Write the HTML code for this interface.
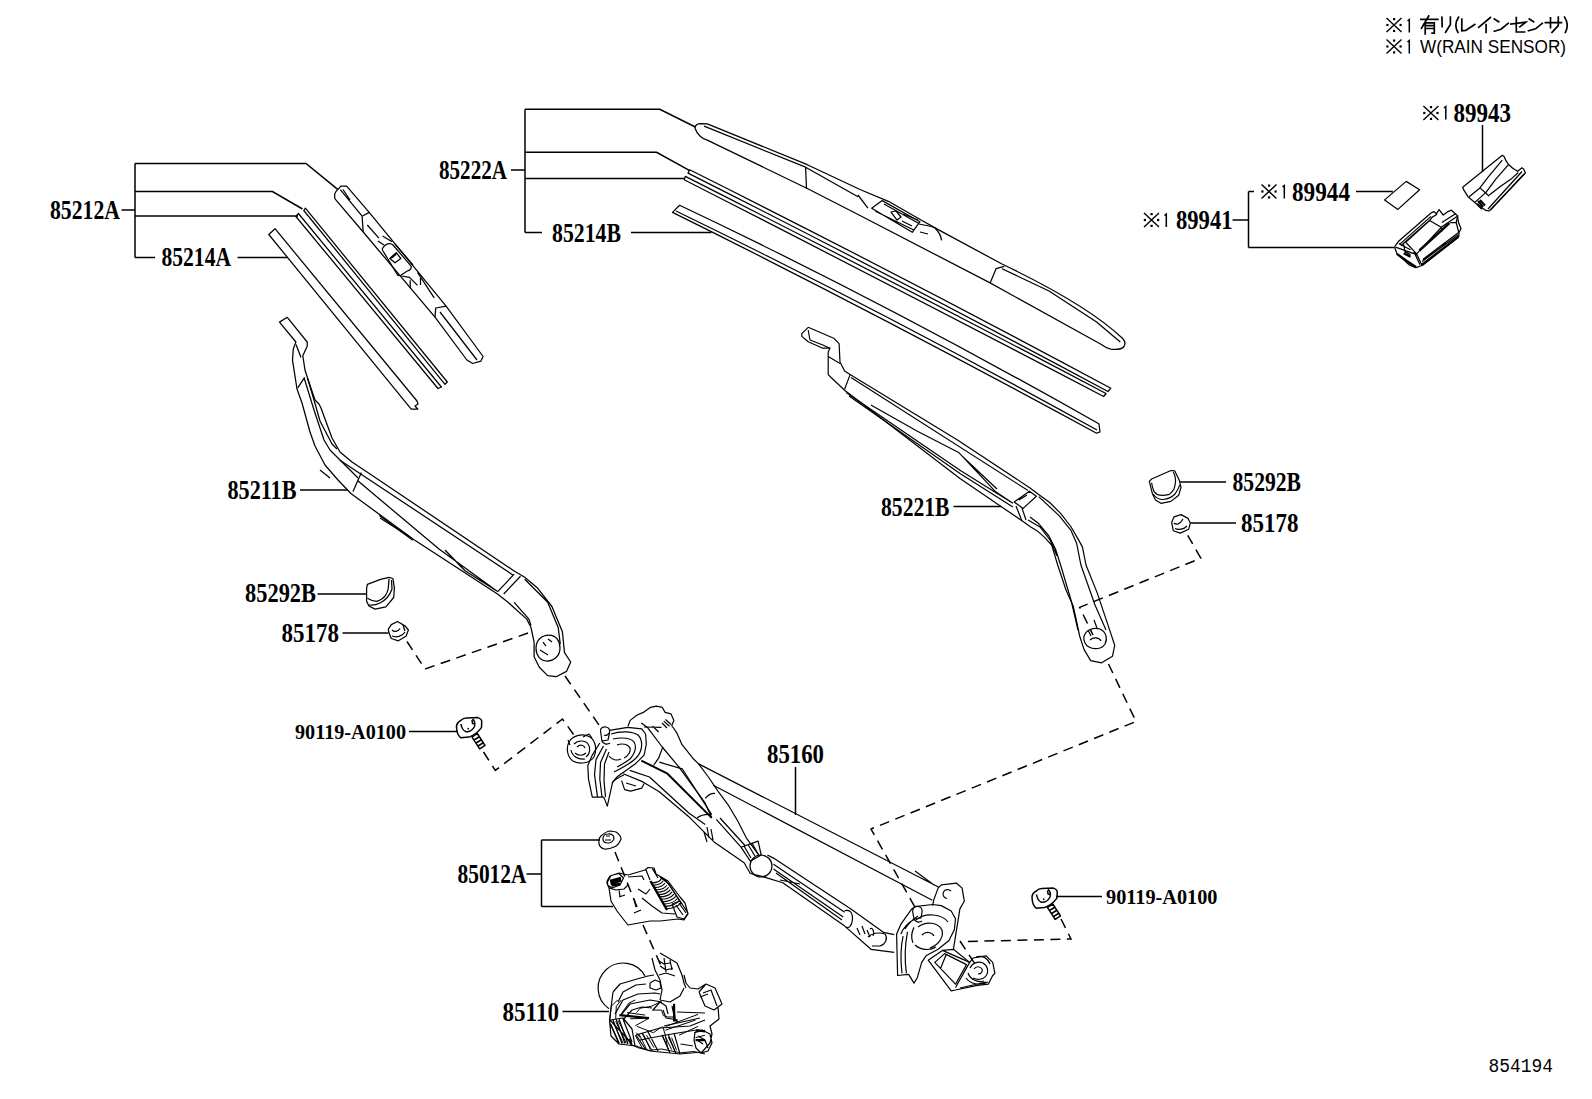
<!DOCTYPE html>
<html><head><meta charset="utf-8"><style>
html,body{margin:0;padding:0;background:#fff;width:1592px;height:1099px;overflow:hidden}
svg{display:block}
.t{font-family:"Liberation Serif",serif;font-weight:bold;font-size:27px;fill:#000}
.ts{font-family:"Liberation Serif",serif;font-weight:bold;font-size:22px;fill:#000}
.tn{font-family:"Liberation Mono",monospace;font-size:19.5px;fill:#000}
.n{font-family:"Liberation Sans",sans-serif;font-size:19px;fill:#000}
</style></head><body>
<svg width="1592" height="1099" viewBox="0 0 1592 1099">
<rect width="1592" height="1099" fill="#fff"/>
<defs>
<g id="kome"><path d="M0.5 14.5L15.5 0.5M0.5 0.5L15.5 14.5" stroke="#000" stroke-width="1.4" fill="none"/><rect x="7" y="0.5" width="2.2" height="2.2"/><rect x="7" y="12.3" width="2.2" height="2.2"/><rect x="0.3" y="6.4" width="2.2" height="2.2"/><rect x="13.5" y="6.4" width="2.2" height="2.2"/></g>
<g id="one"><path d="M1.5 2L3.3 0.5V13.5" stroke="#000" stroke-width="1.5" fill="none"/></g>
</defs>

<g id="bladeL" fill="none" stroke="#000" stroke-width="1.25" stroke-linejoin="round">
<path d="M340.8 186.2L346.6 186.2L369.2 212.4L446.1 306.1L483.1 356.5L480.8 361.2L472.7 363.5L466.9 360L435 317.2L363.2 232L334.8 198.7L334.6 194.4L335.9 191.6Z"/>
<path d="M340.3 189.7L362.1 216.2L369.2 212.4M362.1 216.2L363.2 232M343 189.5L350 200M446.1 306.1L435.7 308L435 317.2M440 312L477 360"/>
<path d="M367.3 225L378.9 238.1M417.5 272.3L434.2 297.8"/>
<path d="M382.6 248.3C385 244 390 242 393 245L410.9 265.8C412 268 410 270.5 407.3 271L400.8 275.2C399 276 397.5 275.5 397 274L384 252.7C382.5 251 382 249.5 382.6 248.3Z"/>
<path d="M389.8 258.5L396.4 252.7L400.8 258.5L395 262.8ZM395 244L413 265M401.5 276L409.5 277.4L417.5 285.4M410.2 280.3V288.3M420.5 278V285M382.6 236L392 241.7M378 241L384 245"/><path d="M391 258L396 254" stroke-width="2.2"/>
<path d="M295.9 216.5L438 388.5L441.4 387L298.4 213.5ZM303.8 210.5L445 384.3L447.3 382L305.4 208.2Z"/>
<path d="M268.8 234.5L275 228.7L417 401L418 404L415 406L417.8 409.2L411.2 409.2L268.8 234.5Z"/>
</g>
<g id="armL" fill="none" stroke="#000" stroke-width="1.25" stroke-linejoin="round">
<path d="M279.5 322.1L287.3 317.3L307.2 342L307.2 346.3L302.8 355.8L305 370L307.5 378L315 400L319 404L321 408L332 438L340 452L352 462L370 474L514.2 571L524.7 577.2L537.2 587.7L551.9 606.5L562.4 631.7L564.5 652.6L570.7 662L566.5 671.4L556.1 676.7L547.7 675.6L539.3 667.2L534.1 656.8L534.1 642.1L531 627.5L526.8 619.1L508 602.3L497.5 594L413.7 539.5L350.9 493.5L338 480L325 465L315 446L310 432L302 403L297 389L292.5 360.1L293.3 348.9L295.9 342Z"/>
<path d="M296 344.6L301 357.5M297.7 387.8L304.6 377.4M304 377.5L314 410L324 440L330 450L340 460L358 478M307.5 378L314 400L320 421L332 444L337 449"/>
<path d="M340 460.2L513.2 575.2M357.5 480.6L439 549L497.2 591.2M445 550L465 570.8L497.2 591.2M379.3 515.5L412.8 540.2M353 491.4L361.4 472.6M497.5 591.9L514.2 574.1M503.7 594L520.5 576.2"/>
<path d="M514.2 602.3L528.9 619.1L531 625.4M524.7 579.3L547.7 602.3L558.2 627.5L560.3 644.2"/>
<path d="M536 648C536 640 542 635 549 635C556 635 560 641 560 648C560 656 554 661 547 661C540 661 536 655 536 648Z"/>
<path d="M540 650L548 655M543 642L546 646M548 639L552 642M380 518L410 537M320 470L330 478"/>
<!-- cap -->
<path d="M367.4 584.3L380.5 579.3L389 577.4L392.9 578.5L394.4 588.2L393.7 597.5L385.9 606.8L375.1 609.1L368.9 606L366.6 601.3L366.6 588.2Z"/>
<path d="M367.4 598.3C370 600 373 601.3 376.7 601.3C380 600.5 383 598.5 385.2 595.9C387 593 388 591 388.3 588.2L389 578.9M369 605C373 605.5 377 604.5 380 603C386 600 390 595 392 589L391.5 580"/>
<!-- nut -->
<path d="M388.3 629.2L391.3 624.6L397.5 621.5L405.3 626.1L408.4 630L406 636.2L398.3 640.8L391.3 638.5L389 633.1Z"/>
<path d="M392 630C394 632 398 632 400 628.5M392 636C396 637.5 402 637 405 632M403 625L405 631"/>
</g>
<g id="bladeR" fill="none" stroke="#000" stroke-width="1.25" stroke-linejoin="round">
<path d="M695.1 128.5C695 125 697 123.8 700 123.6L707.3 123.8L807.3 164.7L860 189.5L888.4 201.3L921.5 220.2L940.5 230.9L1002 264C1050 287 1095 312 1122.7 338.5C1125 341 1125.5 344 1124 346.5C1122 349 1116 349.8 1110.8 349.2C1107 348.5 1104 346.5 1101.4 344.5L990.1 282.9L860 215.5L807.3 188.5L707.3 140.1C702 139 697 134 695.1 128.5Z"/>
<path d="M704.1 126.2L805.6 167.2L858 196.7M805.6 167.2L806.5 188.5M1002 268.7L1049 291L1096.6 322L1120.3 342M990.1 282.9L996.1 268.7L1004.3 266.4M858 195L867.9 208.1"/>
<path d="M871.7 208.2L882.2 200.6L919.9 221.7L912.3 232.3ZM875.4 211.2L913.8 230M884 204L918 223"/>
<path d="M891 212L896 211L901 217L897 220ZM903 214L918 220M902 221L912 226M919 224C925 225 930 226 935 228C939 232 941 236 941.6 240.3M920 232L928 234"/>
<!-- insert -->
<path d="M689.7 169.8L688 173.1Q900 280 1108 391.5L1110.8 388.2Q900 275 689.7 169.8ZM685.3 176.4L684.2 179.7Q900 290 1103.7 396.5L1106 393.5Q900 285 685.3 176.4Z"/>
<!-- rubber -->
<path d="M679.6 205.3L672.5 212.4Q870 310 1096.6 433.2L1100 432L1099 424L1096.6 422.5Q880 300 679.6 205.3ZM676 211Q880 310 1097 430"/>
</g>
<g id="sensor" fill="none" stroke="#000" stroke-width="1.25" stroke-linejoin="round">
<path d="M1384.6 199.9L1406.2 181.4L1419.6 189.7L1397.9 209.4Z"/>
<path d="M1462.7 187.3L1502.3 155.3L1504.1 156.5C1505 159 1506.5 162 1508.3 164.2C1511 167 1514 169.5 1517.7 171.3L1521.9 167.8L1523.6 168.9L1525.4 173.1L1489.3 210.9L1485.8 210.4L1475.7 203.3L1468 196.7L1463.9 190.2Z"/>
<path d="M1469.2 196.7L1479.9 187.9L1488.1 177.2L1502.3 160.1M1475.1 202.1L1485.8 192.6L1496.4 178.4L1508.3 164.8M1479.9 187.9L1489.3 196.2M1489.3 195L1500 186.7L1511.8 178.4L1518.3 172.5M1488 209L1522 171.5M1490.5 210L1524 174"/>
<path d="M1478 201L1483 207M1480 200L1485 205.5M1477 204L1482 209" stroke-width="2"/>
<path d="M1394.8 246.4 L1398.9 241.0 L1431.0 213.0 L1433.7 211.6 L1436.4 213.7 L1439.1 209.6 L1443.2 215.0 L1448.0 211.6 L1451.4 210.2 L1457.6 215.7 L1458.3 221.8 L1461.0 228.7 L1458.9 232.8 L1458.9 236.2 L1422.1 265.5 L1415.9 267.6 L1409.1 264.8 L1396.8 253.2 L1394.8 247.8 L1394.8 246.4 "/>
<path d="M1399.6 244.4 L1431.0 216.4 M1400.9 245.7 L1431.6 218.4 M1405.7 242.3 L1429.6 220.5 L1441.2 227.3 L1416.6 253.9 L1405.7 242.3 M1429.6 220.5 L1432.3 217.1 L1437.1 214.3 M1441.2 227.3 L1456.9 216.4 M1441.9 222.5 L1455.5 213.7 M1441.2 227.3 L1441.9 231.4 M1457.6 216.4 L1456.2 222.5 L1458.9 232.8 M1450.1 222.5 L1456.2 222.5 M1416.6 253.9 L1422.1 265.5 M1413.9 251.9 L1420.0 264.8 M1395.5 247.1 L1416.6 254.6 M1398.9 243.7 L1410.5 249.8 M1403.7 244.4 L1405.0 251.9 L1410.5 254.6 M1422.1 261.4 L1458.3 234.8 M1422.8 259.4 L1458.3 232.8 M1441.9 245.1 L1446.0 243.7 "/>
<path d="M1419.4 250.5 L1449.4 223.2 M1396.8 253.9 L1406.4 260.8 L1415.9 266.9 M1422.1 264.8 L1458.3 236.9 M1403.7 253.2 L1410.5 256.7 " stroke-width="2.4"/>
</g>
<g id="notes">
<use href="#kome" x="1386" y="17.5"/><use href="#one" x="1406" y="19"/>
<use href="#kome" x="1386" y="39"/><use href="#one" x="1406" y="40"/>
<path d="M1420.8 19.4 L1437.8 19.4 M1428.7 16.0 L1421.5 28.2 M1425.2 23.5 L1425.2 33.9 M1425.2 22.9 L1434.3 22.9 1434.3 33.2 1432.1 33.2 M1425.2 25.7 L1434.3 25.7 M1425.2 28.5 L1434.3 28.5 M1441.9 17.2 L1442.2 26.6 M1450.4 17.2 L1450.4 24.4 1445.6 32.3 M1458.5 17.2 Q1453.5 24.8 1457.9 32.3 M1461.8 19.0 L1461.8 30.8 1465.7 30.4 1474.7 24.5 M1490.4 17.5 L1478.6 27.3 M1486.1 24.5 L1486.1 32.4 M1494.3 19.0 L1498.7 21.8 M1494.3 31.2 L1501.0 29.2 1508.1 23.3 M1510.8 24.1 L1525.7 22.2 1519.9 26.9 M1516.3 17.5 L1516.3 32.0 1524.6 32.0 M1529.3 19.0 L1533.6 21.8 M1528.5 30.8 L1535.6 28.8 1542.2 23.3 M1545.4 22.6 L1561.5 22.6 M1550.5 17.8 L1550.5 27.7 M1558.3 17.1 L1558.3 25.7 1552.0 32.4 M1564.6 17.1 Q1569.5 24.5 1565.4 32.4 " fill="none" stroke="#000" stroke-width="1.7" stroke-linecap="square"/>
<text x="1420" y="53" font-family="Liberation Sans" font-size="18" textLength="146" lengthAdjust="spacingAndGlyphs">W(RAIN SENSOR)</text>
<use href="#kome" x="1422.9" y="105.5"/><use href="#one" x="1442.5" y="106"/>
<use href="#kome" x="1261" y="184"/><use href="#one" x="1281" y="185"/>
<use href="#kome" x="1143.5" y="212.5"/><use href="#one" x="1163" y="213.5"/>
</g>
<g id="linkage" fill="none" stroke="#000" stroke-width="1.2" stroke-linejoin="round">
<!-- left pivot bushing -->
<path d="M569 742C573 735 583 733 590 737C596 741 597 750 594 757C590 763 580 765 573 761C567 757 566 748 569 742Z"/>
<path d="M574 744C578 740 585 740 588 744C591 748 590 754 586 757M571 750C572 756 578 760 585 759M577 747C580 744 584 745 585 748M575 753C578 756 583 756 586 753M583 737L589 734L592 738M570 745L568 740"/>
<!-- left knob -->
<path d="M600.5 731C600 728 603 726.5 606 727C609 727.5 610 730 609.5 733L608 740L602 741Z"/>
<path d="M602 741C603 744 607 745 610 743M604 735C606 736 608 735 609 733"/>
<!-- left housing -->
<path d="M609.5 730.3L627.6 727.3L641.8 728.8L645.6 734L646.3 744.5L644.1 755.1L635.1 764.1L624.6 771.6L617.1 776.8L612.6 782.1L610.3 792.6L607.3 806.1L605 800.1L603.5 797.1L592.3 797.1L588.5 779.1L587.8 765.6L592.3 755.1L599.8 743"/>
<path d="M603.5 746L596 759.6L594.5 774.6L597.5 797.1M606.5 749L600.5 762.6L599.8 779L602 797M609 752L604.5 764L604 781L605.5 797"/>
<path d="M611 734C620 731 632 731 638 735C643 740 643 750 637 757C632 763 622 768 614 772M613 739C622 737 631 738 634 742C637 747 635 753 630 759C626 762 621 765 617 767M617 745C622 743 628 744 630 748C631 752 628 756 624 758M609 756C612 760 617 761 621 759M612 783C615 779 619 777 624 775"/>
<path d="M621.6 780.6L624.6 789.6L630.6 791.1L641.8 788.1L644.1 783.6M626 783L636 786"/>
<!-- top blob and pipe -->
<path d="M628 726.2L630.2 720.4L636.7 715.3L643.3 712.4L650.6 707.3L656.4 706.2L662.2 707.3L665.1 712.4L670.9 713.8L673.9 720.4L671.7 725.5L676.8 732.8L681.9 744.4L692.8 758.2L698.6 763.9L708.4 777L718.3 791.7L728.1 804.8L737.9 821.2L746.1 837.6L759.2 855.6"/>
<path d="M641.3 722.9L647.8 727.8L662.6 747.5L679 767.1L692.1 785.2L705.2 803.2L711.7 817.9"/>
<path d="M663.7 721.1L669.5 726.2M665.5 719.5L671 724.5M662 723L667 728M644 727L661.5 727.3M652.7 726.2L658.6 732M662.9 746.6L658.6 758.2L653.5 765.5"/>
<!-- upper rod -->
<path d="M698.6 763.9L938.9 887.2M713.3 785.2L932.3 900.3M915 871L934 885"/>
<!-- crank rod -->
<path d="M641.3 760.6L667.5 773.7L711.7 817.9" stroke-width="2"/>
<path d="M659.3 762.2L682.2 768.8L711.7 814.6M705.2 798.3C708 795 712 793 715 793.4M697 817.9C701 815 706 814 711.7 814.6"/>
<path d="M623.3 773.7L642.9 781.9L659.3 791.7L690 817.8L705.5 833.3L714.8 842.6L744.1 862.7L750.3 873.5L762.7 876.6M629.8 770.4L649.5 777L688.8 813L705.2 824.5M707 827L709 838M711 829L713 840M704 832L707 842"/>
<path d="M716.3 819.4L741 847.2M720 818L745 845.5M741 847.2L758.1 841.1L761.2 855L750.3 861.2ZM744 846L751 858M748 844.5L755 856M752 843L758 854"/>
<!-- frame pipe -->
<circle cx="761" cy="866" r="11"/>
<path d="M767.4 855L773.5 858.1L850.9 909.1L883.4 932.3L894.2 934.6M762.7 876.6L782.8 882.8L844.7 926.1L871 949.3L894.2 952.4"/>
<path d="M773.5 864.3L844.7 912.2M773.5 868.9L843.2 916.9M776 873L842 920M780 880L800 884"/>
<path d="M844.7 910.7C851 909 853 914 852.4 920C852 925 849 929 846 927M857 928L860 935M862 926L865 934M867 930L870 937M870 929C872 927 875 931 873 936M868 937C872 933 879 932 885 934C888 938 886 944 880 946L872 946"/>
<!-- right tab -->
<path d="M932.6 905.6L933.7 900.1L938.1 888.1L941.3 884.8L956.6 883.2L962.1 888.1L964.3 901.2L959.9 908.9L953.4 949.3"/>
<path d="M951 891C949 889 945 889 943.5 892C942 895 944 898 947 898.5"/>
<!-- right housing -->
<path d="M896.6 934L900.9 924.2L911.8 908.9L915.1 906.7L932.6 904.5L941.3 905.6L951.2 911L955.5 918.7L954.4 929.6L949 940.5L938.1 949.3L926 955.8L921.7 962.4L917.3 977.7L914 983.1L908.6 974.4L897.6 975.5Z"/>
<path d="M903.1 936.2Q899.5 951.5 902 973.3M907.5 931.8Q903.5 951.5 906.4 973.3M900.9 934Q904 925 915.1 918.7M905 929Q910 921 918 916M914 927.4Q910 935 912.9 942.7M916 920C925 912 942 914 948 922M918 927C926 921 938 922 942 930C944 938 938 945 930 948M922 935C926 931 932 932 934 936M915 945C920 950 930 951 936 947"/>
<path d="M912.7 912C912 908 915 906 918 906.5C921 907 922.5 909 922 912L921 918L914 919Z"/>
<path d="M914 919C915 922 919 923 922 921"/>
<!-- right bushing / crank -->
<path d="M928.2 960.2L942.4 950.4L953.4 949.3L969.7 962.4L973 958L986.1 955.8L992.7 962.4L994.9 973.3L992.7 975.5L988.3 984.2L977.4 985.3L955.5 990L951.2 990.8Z"/>
<path d="M934.8 962.4L944.6 953.6L966.5 964.6L955.5 984.2ZM942.4 950.4L969.7 962.4L955.5 987.5M940.3 969L946 955M970 968C972 963 978 961 983 963C988 966 989 972 986 976C983 980 977 980 973 978M974 969C976 966 980 966 982 969C983 972 981 974 978 974M968 973C970 979 977 983 984 981M966 978C970 984 980 986 988 982M976 957C982 955 988 958 990 964M960 988L986 982"/>
</g>
<g id="armR" fill="none" stroke="#000" stroke-width="1.2" stroke-linejoin="round">
<path d="M801.8 333.7L808.2 327.3L833.7 338.2L839.1 343.7L840 361.9L844.6 371L850.1 374.6L957.5 440L1030 487.9L1038.7 494.5L1049.7 502.5L1060.6 513.4L1070.8 526.5L1078 538.9L1082.4 546.9L1086 565L1097.2 592.9L1108.2 625.6L1114.7 645.3L1112.5 656.2L1101.6 662.8L1090.7 660.6L1084.1 649.6L1079.8 636.5L1073.2 606L1066 590L1057.7 565L1051.8 545.4L1044.6 537.4L1037.3 530.9L1030 526.5L1022.4 521.1L960 478.5L844.6 390.2L831.9 378.2L828.2 374.6L828.2 351.9L830 348.2L822.8 348.2L808.2 341.8L801.8 336.4Z"/>
<path d="M808.2 330L810 340M810 340L822.8 345L830 348.2M828.2 356.5L840 363.5M850.1 374.6L844.6 389.2M851 377.5L1028 490.5M846.2 392.5L960 470.2L1012.9 503.3M849 396L960 473.4L1012.9 507.1M870.9 404.9L917.4 431.2L959.1 452.8L995.7 491.8L1012.9 503.3M963 457L997 489"/>
<path d="M1014.1 502L1029.4 491.2L1036.4 496.3L1023.1 508.4ZM1019 500L1027 495M1016 506L1022 521M1022 508L1026 520" />
<path d="M1038.7 496.6L1059.1 515.6L1070.8 530.1L1076.6 543.2L1080.9 565L1095 605L1106 630M1030 517L1038.7 523.6L1048.9 536L1055.5 549L1060.6 565L1071 600L1078 630M1028 520L1040 527L1050 540L1057 556"/>
<path d="M1084.1 636C1086 630 1093 627 1100 629C1106 632 1108 638 1105 644C1102 649 1094 650 1089 647C1085 645 1083 640 1084.1 636Z"/>
<path d="M1090 640C1093 637 1099 637 1101 641M1088 630L1091 636M1094 620L1097 628"/>
<!-- cap -->
<path d="M1149.3 481.3L1151.6 479L1170.9 470.5L1174.8 470.9L1179.4 480.5L1181 487.5L1178.7 495.2L1170.9 501.4L1160.9 503.3L1155.5 499.9L1152.4 493.7Z"/>
<path d="M1151.6 482.8C1152 486 1153 489 1153.9 491.3C1156 494 1158 495 1160.1 495.2C1163 495.5 1166 495.2 1169.4 494.4C1171 493 1173 491 1174 489C1175 486 1175.5 483 1175.6 480.5C1175.5 477 1174.5 474 1173.3 472M1153 494C1156 498 1159 499.5 1163 499.5C1168 499 1172 497 1175 494C1177 491 1179 488 1179.5 485"/>
<!-- nut -->
<path d="M1171.7 522.3L1174 516.9L1181 514.6L1188 518.4L1190.3 523.1L1188.7 529.2L1180.2 533.1L1173.3 530.8Z"/>
<path d="M1174 523C1176 525 1180 524.5 1183 519M1175 528.5C1178 530 1184 529.5 1187 526"/>
</g>
<defs><g id="bolt" fill="none" stroke="#000" stroke-width="1.5" stroke-linejoin="round">
<path d="M7.1 20.7C6.5 17 8.5 14.5 11.2 13C13 11.2 15 10.4 16.6 10.4L28.4 10.1C31 11 32.5 12.5 32.2 14.6L32 20.1C29 24 24 28 19.5 29.6L11.2 30.2C8.5 28 7.3 24 7.1 20.7Z"/>
<path d="M11.5 16.5C12 20 13.5 23 16.5 24.3C20 24.5 23.5 22 25 19C25.8 16 25 13 23 11.2M18.5 20.5L19 22M22.5 12.5L23 16L25.5 16.5"/>
<path d="M22.5 29.6L27.8 26L35.5 37.9L30.2 41.4ZM24.5 32.5L29.5 29.5M26.5 35.5L31.5 32.5M28.5 38.5L33.5 35.5"/>
</g>
</defs>
<use href="#bolt" x="1025" y="878"/>
<use href="#bolt" x="449.5" y="707.5"/>
<g id="motor" fill="none" stroke="#000" stroke-width="1.2" stroke-linejoin="round">
<path d="M599 844C598.5 840 599 838 600.5 836.5C604 833 608 831 611 831L616 832C619 834 621 836.5 621 839C619.5 843 617 846 614 847C611 848.5 607 849.3 604 849C601 848 599.5 846 599 844Z"/>
<path d="M603 839C603 836 605 834 608 834C611 833.5 614 835 614 838C614 841 611 843 608 843C605 843 603 841.5 603 839ZM606 836L610 836M605 840L611 840"/>
<path d="M607.0 881.0 L610.0 876.0 L619.0 873.0 L628.0 875.0 L645.0 870.0 L648.0 867.5 L654.0 868.0 L656.0 874.0 L668.0 881.0 L680.0 897.0 L685.0 903.0 L688.0 914.0 L684.0 920.0 L678.0 919.0 L660.0 921.0 L650.0 921.0 L628.0 925.0 L624.0 920.0 L617.0 911.0 L611.0 901.0 L609.0 888.0 L607.0 883.0 L607.0 881.0  M607.5 882.0 L611.0 875.5 L619.0 873.5 L623.5 878.0 L620.0 885.0 L612.0 888.0 L607.5 885.0 L607.5 882.0 M609.0 888.0 L616.0 890.0 L624.0 889.0 L628.0 885.0 M628.0 877.0 L642.0 876.0 L644.0 880.0 M638.0 889.0 L646.0 894.0 L650.0 889.0 M642.0 898.0 L652.0 906.0 L662.0 913.0 L675.0 914.0 M619.0 889.0 L620.0 897.0 M619.0 897.0 L625.0 895.0 M634.0 899.0 L636.0 907.0 M634.0 913.0 L641.0 910.0 M646.0 870.0 L650.0 880.0 M652.0 868.0 L658.0 878.0  M660.0 877.0 L666.0 881.0 L672.0 889.0 L680.0 901.0 M672.0 904.0 L680.0 901.0 L688.0 913.0 L684.0 919.0 L677.0 917.0 L672.0 904.0 M676.0 905.0 L683.0 915.0 M679.0 903.0 L686.0 913.0 "/>
<path d="M610.0 881.0 L621.0 878.0 M610.5 883.5 L621.5 880.5 M611.5 885.5 L620.0 884.0 " stroke-width="2.4"/>
<path d="M650.5 881.0L667.0 910.0" stroke-width="2.4"/><path d="M660.0 877.0L669.0 884.0L677.0 897.0L682.0 904.0"/>
<path d="M651.2 882.7Q658.8 883.1 661.4 878.6M652.6 885.1Q660.4 885.4 663.2 880.8M653.9 887.4Q662.0 887.7 665.0 883.0M655.3 889.8Q663.5 890.0 666.8 885.2M656.7 892.2Q665.1 892.3 668.6 887.4M658.1 894.6Q666.7 894.6 670.4 889.6M659.4 896.9Q668.3 896.9 672.1 891.9M660.8 899.3Q669.9 899.2 673.9 894.1M662.2 901.7Q671.5 901.5 675.7 896.3M663.6 904.1Q673.0 903.8 677.5 898.5M664.9 906.4Q674.6 906.1 679.3 900.7M666.3 908.8Q676.2 908.4 681.1 902.9" stroke-width="1.1"/>
<path d="M609 1008.7A25 25 0 1 1 645 976"/>
<path d="M613.0 992.0 L620.0 984.0 L637.0 979.0 L648.0 976.0 L654.0 975.0 M684.0 975.0 L686.0 983.0 L690.0 988.0 L698.0 989.0 L706.0 984.0 L715.0 988.0 L722.0 1004.0 L718.0 1007.0 L719.0 1019.0 L710.0 1026.0 L712.0 1034.0 L710.0 1043.0 L702.0 1052.0 L680.0 1054.0 L650.0 1051.0 L636.0 1046.0 L619.0 1044.0 L611.0 1036.0 L609.5 1020.0 L613.0 992.0  M660.0 953.0 L677.0 963.0 L682.0 975.0 L684.0 983.0 L686.0 988.0 M652.0 958.0 L655.0 970.0 L660.0 980.0 L662.0 990.0 L660.0 1000.0 M660.0 1000.0 L670.0 1002.0 L680.0 996.0 L684.0 988.0 M659.0 975.0 L666.0 973.0 L675.0 976.0  M659.0 961.0 L664.0 964.0 L670.0 963.0 M660.0 966.0 L666.0 970.0 L673.0 968.0 M664.0 958.0 L666.0 972.0 M670.0 960.0 L672.0 970.0  M615.0 1014.0 L623.0 1000.0 L638.0 994.0 L655.0 993.0 L660.0 994.0 M621.0 1015.0 L630.0 1004.0 L650.0 1000.0 L662.0 1002.0 M618.0 1002.0 L623.0 992.0 L636.0 985.0 L646.0 984.0 M623.0 1020.0 L632.0 1010.0 L642.0 1007.0 L652.0 1008.0  M610.0 1020.0 L632.0 1044.0 M609.5 1022.0 L619.0 1044.0 M613.0 1020.0 L622.0 1043.5 M616.0 1019.0 L625.0 1043.5 M619.0 1019.0 L628.0 1044.0 M623.0 1019.0 L632.0 1042.0 M610.0 1020.0 L623.0 1018.0 L632.0 1029.0 L635.0 1046.0  M636.0 1035.0 L646.0 1050.0 M642.0 1033.0 L652.0 1051.0 M648.0 1032.0 L658.0 1051.0 M662.0 1035.0 L670.0 1053.0 M668.0 1034.0 L676.0 1054.0 M674.0 1033.0 L680.0 1054.0 M636.0 1035.0 L660.0 1028.0 L690.0 1026.0 L705.0 1020.0 M640.0 1040.0 L666.0 1035.0 L696.0 1030.0 M664.0 1026.0 L700.0 1018.0 M677.0 1012.0 L705.0 1013.0  M699.0 992.0 L706.0 984.0 L715.0 988.0 L722.0 1004.0 L714.0 1010.0 L705.0 1006.0 L699.0 992.0 M703.0 993.0 L711.0 990.0 L717.0 1006.0 M700.0 997.0 L708.0 994.0  M695.0 1032.0 L702.0 1030.0 L710.0 1034.0 L712.0 1043.0 L708.0 1051.0 L701.0 1053.0 L696.0 1048.0 L694.0 1040.0 L695.0 1032.0 M698.0 1036.0 L705.0 1040.0 L708.0 1048.0 M697.0 1040.0 L703.0 1044.0  M653.0 1010.0 L660.0 1002.0 L666.0 1006.0 L668.0 1014.0 M663.0 1010.0 L666.0 1018.0 L678.0 1020.0 M672.0 1006.0 L675.0 1020.0 L678.0 1022.0 M650.0 983.0 L655.0 980.0 L660.0 982.0 L661.0 988.0 L656.0 990.0 L650.0 988.0 L650.0 983.0 "/>
<path d="M610.7 1023.9 L619.4 1043.3 M613.2 1022.6 L623.2 1043.3 M615.7 1021.4 L626.4 1043.3 M618.2 1020.7 L628.9 1041.5 M610.0 1018.8 L611.3 1006.3 L617.6 1000.0 M615.7 1018.8 L616.3 1006.3 L621.3 1000.0 M621.3 1013.8 L628.9 1003.1 L635.2 1000.0 M627.0 1012.6 L645.2 1015.1 M630.1 1018.8 L649.0 1018.2 L635.2 1025.8 M636.4 1012.6 L640.2 1008.2 L651.5 1006.3 L660.3 1001.9 M652.1 1010.1 L661.5 1010.1 L663.4 1015.7 L667.8 1017.0 L674.1 1017.0 M635.2 1035.2 L642.7 1049.0 M638.9 1033.9 L646.5 1049.0 M642.7 1033.3 L650.2 1049.0 M646.5 1035.2 L654.0 1047.7 M662.2 1035.2 L668.4 1049.0 M665.3 1036.4 L671.6 1049.6 M668.4 1037.1 L674.7 1050.3 M671.6 1037.7 L676.6 1050.3 M631.4 1044.6 L637.7 1047.7 L649.0 1050.3 L661.5 1049.0 L680.4 1052.8 L694.2 1051.5 L705.0 1054.0 M665.9 1026.4 L698.0 1014.4 M665.3 1030.2 L695.5 1020.1 M679.1 1035.2 L698.0 1026.4 M637.0 1026.4 L653.4 1032.7 L661.5 1027.0 M662.8 1026.4 L665.3 1035.2 L667.8 1049.0 M674.1 1006.3 L675.4 1021.4 M636.4 1032.7 L640.2 1037.7 M680.4 1044.0 L692.9 1045.9 M694.2 1032.7 L705.0 1030.2 M695.5 1037.7 L705.0 1035.2 " stroke-width="1"/>
<path d="M619.4 1015.1 L649.0 1018.2 M674.1 1003.8 L674.1 1021.4 M696.1 1030.2 L705.0 1031.4 M695.5 1040.2 L705.0 1040.2 M628.9 1038.9 L631.4 1044.6 " stroke-width="2.2"/>
</g>
<!-- LABELS -->
<g id="labels">
<text class="t" x="50" y="219" textLength="70" lengthAdjust="spacingAndGlyphs">85212A</text>
<text class="t" x="161.5" y="265.5" textLength="69.5" lengthAdjust="spacingAndGlyphs">85214A</text>
<text class="t" x="439" y="179" textLength="68" lengthAdjust="spacingAndGlyphs">85222A</text>
<text class="t" x="552" y="241.5" textLength="69" lengthAdjust="spacingAndGlyphs">85214B</text>
<text class="t" x="1453.5" y="121.5" textLength="57.5" lengthAdjust="spacingAndGlyphs">89943</text>
<text class="t" x="1292" y="200.5" textLength="58" lengthAdjust="spacingAndGlyphs">89944</text>
<text class="t" x="1176" y="229" textLength="56.5" lengthAdjust="spacingAndGlyphs">89941</text>
<text class="t" x="227.5" y="499" textLength="69" lengthAdjust="spacingAndGlyphs">85211B</text>
<text class="t" x="245" y="602" textLength="71" lengthAdjust="spacingAndGlyphs">85292B</text>
<text class="t" x="281.5" y="641.5" textLength="57.5" lengthAdjust="spacingAndGlyphs">85178</text>
<text class="ts" x="295" y="739" textLength="111" lengthAdjust="spacingAndGlyphs">90119-A0100</text>
<text class="t" x="767" y="763" textLength="57" lengthAdjust="spacingAndGlyphs">85160</text>
<text class="t" x="457.5" y="883" textLength="69" lengthAdjust="spacingAndGlyphs">85012A</text>
<text class="t" x="502.5" y="1020.5" textLength="56.5" lengthAdjust="spacingAndGlyphs">85110</text>
<text class="ts" x="1106" y="904" textLength="111.5" lengthAdjust="spacingAndGlyphs">90119-A0100</text>
<text class="t" x="881" y="515.5" textLength="68.5" lengthAdjust="spacingAndGlyphs">85221B</text>
<text class="t" x="1232.5" y="490.5" textLength="68.5" lengthAdjust="spacingAndGlyphs">85292B</text>
<text class="t" x="1241" y="531.5" textLength="57.5" lengthAdjust="spacingAndGlyphs">85178</text>
<text class="tn" x="1488.5" y="1071.5" textLength="64.5" lengthAdjust="spacingAndGlyphs">854194</text>
</g>
<!-- LEADERS -->
<g id="leaders" fill="none" stroke="#000" stroke-width="1.5">
<path d="M121.5 210H135M135 163.5V257.5M135 163.5H306L338 189.7M135 191.5H272.5L302.5 209M135 216H298M135 257.5H155M237.5 257.5H287.5"/>
<path d="M511 170H525M525 109.3V232.5M525 109.3H659.8L695.3 127M525 152.3H656.6L689.3 170.4M525 178.5H684.4M525 232.5H542M631 232.5H711.4"/>
<path d="M1482.5 125V172"/>
<path d="M1356 191.5H1392.8"/>
<path d="M1232.5 220H1248.5M1248.5 191.5V247.5M1248.5 191.5H1254M1248.5 247.5H1394.1"/>
<path d="M300 490H347.5"/>
<path d="M317.5 594H366.6M342.5 633H388.3M409 731.5H457.5"/>
<path d="M526.5 874H541.5M541.5 840V906.5M541.5 840H600M541.5 906.5H613M562.5 1011.5H609"/>
<path d="M1056 896.5H1102M953.5 506.5H1001M1180.2 482.1H1226M1190.3 523.1H1236"/>
<path d="M795.5 767V815"/>
</g>
<g id="dashes" fill="none" stroke="#000" stroke-width="1.5" stroke-dasharray="10,6.5">
<path d="M407 641.5L425 669L532.5 631.5"/>
<path d="M565 676L600 726.5"/>
<path d="M483.5 752L495.3 770.4L562.5 719L575 736.5"/>
<path d="M1187.7 535.3L1200.8 558.2L1079.7 607.3L1093 635"/>
<path d="M1108.5 664L1136 721.5L871 829L916 909"/>
<path d="M1061 919L1071 939L966 941.5"/>
<path d="M960 941L975 964"/>
<path d="M615 852L637 907"/>
<path d="M643 925L662 968"/>
</g>
</svg>
</body></html>
